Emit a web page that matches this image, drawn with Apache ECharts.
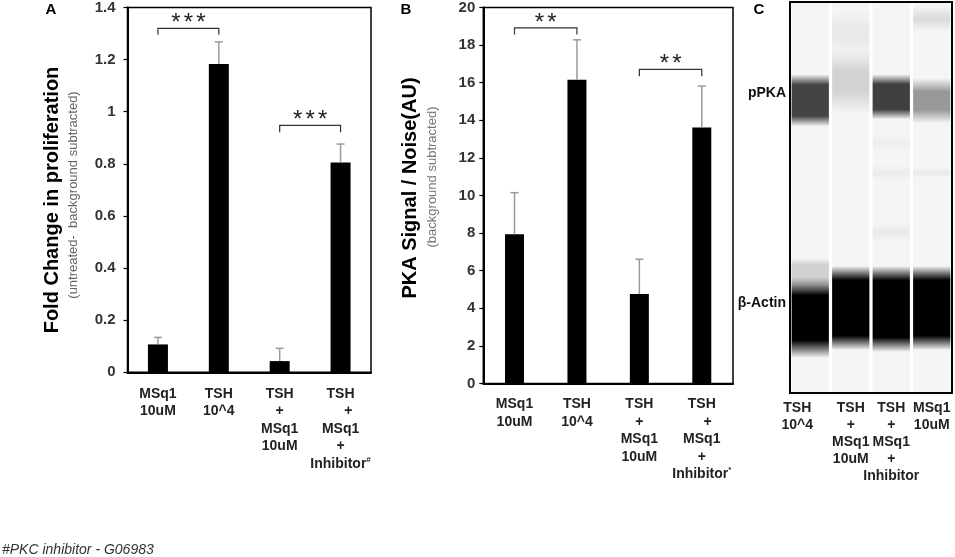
<!DOCTYPE html>
<html><head><meta charset="utf-8">
<script src="https://cdn.jsdelivr.net/npm/echarts@6/dist/echarts.min.js"></script>
<style>html,body{margin:0;padding:0;background:#fff}#c{width:955px;height:557px}</style>
</head><body><div id="c"></div>
<script>
// ---- Panel A data ----
var categoriesA = ['MSq1\n10uM', 'TSH\n10^4', 'TSH\n+\nMSq1\n10uM', 'TSH\n    +\nMSq1\n+\nInhibitor{s|#}'];
var valuesA = [0.107, 1.183, 0.043, 0.805];
var errorsA = [0.027, 0.085, 0.049, 0.071];
// [fromIndex, toIndex, bracketTop, legBottom, starY]
var sigA = [[0, 1, 1.32, 1.295, 1.362], [2, 3, 0.948, 0.921, 0.99]];
var sigLabelsA = ['***', '***'];
// ---- Panel B data ----
var categoriesB = ['MSq1\n10uM', 'TSH\n10^4', 'TSH\n+\nMSq1\n10uM', 'TSH\n   +\nMSq1\n+\nInhibitor{s|*}'];
var valuesB = [7.94, 16.16, 4.76, 13.62];
var errorsB = [2.21, 2.12, 1.85, 2.20];
var sigB = [[0, 1, 18.92, 18.57, 19.5], [2, 3, 16.71, 16.34, 17.32]];
var sigLabelsB = ['**', '**'];
// ---- Panel C data (blot lanes, band positions in migration units 0-100 top to bottom) ----
var lanesC = ['TSH\n10^4', 'TSH\n+\nMSq1\n10uM', 'TSH\n+\nMSq1\n+\nInhibitor', 'MSq1\n10uM'];
var bandNamesC = ['pPKA', 'β-Actin'];
var bandLabelPosC = [23.3, 77];
// [lane, start, end, darkness, edgeFraction]
var bandsC = [
  [0, 18.5, 31.8, 0.72, 0.2],
  [0, 65.5, 72.5, 0.15, 0.25],
  [0, 70.5, 91.0, 1.0, 0.22],
  [1, 2.0, 14.0, 0.05, 0.4],
  [1, 12.0, 28.5, 0.14, 0.35],
  [1, 67.5, 89.0, 1.0, 0.17],
  [2, 18.5, 30.0, 0.74, 0.22],
  [2, 34.0, 38.0, 0.035, 0.5],
  [2, 41.5, 46.0, 0.04, 0.5],
  [2, 56.5, 61.5, 0.05, 0.5],
  [2, 67.5, 89.5, 1.0, 0.17],
  [3, 1.0, 7.5, 0.1, 0.45],
  [3, 19.5, 31.0, 0.38, 0.3],
  [3, 42.5, 45.0, 0.05, 0.5],
  [3, 67.5, 89.0, 1.0, 0.17]
];

var FONT = 'Liberation Sans, Arial, Helvetica, sans-serif';
var chart = echarts.init(document.getElementById('c'), null, {renderer: 'canvas'});

function errRender(params, api) {
  var x = api.value(0), v = api.value(1), e = api.value(2);
  var p0 = api.coord([x, v]), p1 = api.coord([x, v + e]);
  var cap = 4;
  return {type: 'group', children: [
    {type: 'line', shape: {x1: p0[0], y1: p0[1], x2: p1[0], y2: p1[1]}, style: {stroke: '#9a9a9a', lineWidth: 1.5}},
    {type: 'line', shape: {x1: p1[0] - cap, y1: p1[1], x2: p1[0] + cap, y2: p1[1]}, style: {stroke: '#9a9a9a', lineWidth: 1.5}}
  ]};
}
function sigRender(labels) {
  return function (params, api) {
    var i0 = api.value(0), i1 = api.value(1);
    var a = api.coord([i0, api.value(2)]), b = api.coord([i1, api.value(2)]);
    var la = api.coord([i0, api.value(3)]), lb = api.coord([i1, api.value(3)]);
    var s = api.coord([i0, api.value(4)]);
    var n = labels[params.dataIndex].length, pitch = 12.5;
    var cx = (a[0] + b[0]) / 2;
    var children = [
      {type: 'polyline', shape: {points: [[la[0], la[1]], [a[0], a[1]], [b[0], b[1]], [lb[0], lb[1]]]}, style: {stroke: '#333', lineWidth: 1.2, fill: null}}
    ];
    for (var k = 0; k < n; k++) {
      children.push({type: 'text', x: cx + (k - (n - 1) / 2) * pitch, y: s[1] + 6,
        style: {text: '*', fill: '#222', font: '24px ' + FONT, align: 'center', verticalAlign: 'middle'}});
    }
    return {type: 'group', children: children};
  };
}
function laneRender(params, api) {
  var i = api.value(0);
  var t = api.coord([i, 0]), b = api.coord([i, 100]);
  var w = api.size([1, 0])[0] * 0.92;
  return {type: 'rect', shape: {x: t[0] - w / 2, y: t[1] + 1, width: w, height: b[1] - t[1] - 2}, style: {fill: '#f5f5f5'}};
}
function bandRender(params, api) {
  var lane = api.value(0), y0 = api.value(1), y1 = api.value(2), a = api.value(3), f = api.value(4);
  var pt = api.coord([lane, y0]), pb = api.coord([lane, y1]);
  var w = api.size([1, 0])[0] * 0.92;
  var c = 'rgba(0,0,0,';
  return {type: 'rect', shape: {x: pt[0] - w / 2, y: Math.min(pt[1], pb[1]), width: w, height: Math.abs(pb[1] - pt[1])},
    style: {fill: {type: 'linear', x: 0, y: 0, x2: 0, y2: 1, colorStops: [
      {offset: 0, color: c + '0)'}, {offset: f, color: c + a + ')'}, {offset: 1 - f, color: c + a + ')'}, {offset: 1, color: c + '0)'}]}}};
}

var xLabelBase = {color: '#222', fontWeight: 'bold', fontSize: 14, fontFamily: FONT, lineHeight: 17.5, interval: 0,
  rich: {s: {fontSize: 8, fontWeight: 'bold', verticalAlign: 'top', lineHeight: 17.5, padding: [0, 0, 6, 0], color: '#222'}}};
var yLabelBase = {color: '#333', fontWeight: 'bold', fontSize: 15, fontFamily: FONT};
var yTick = {show: true, inside: false, length: 4, lineStyle: {color: '#000', width: 1.2}};

var laneCats = lanesC.map(function (l, i) {
  return i === 0 ? {value: l, textStyle: {padding: [0, 26, 0, 0]}} : l;
});

var option = {
  animation: false,
  backgroundColor: '#fff',
  grid: [
    {left: 127.5, top: 5.5, width: 243.5, height: 366.8, show: true, borderColor: '#000', borderWidth: 1.5, backgroundColor: 'transparent'},
    {left: 483.3, top: 6.5, width: 249.7, height: 377, show: true, borderColor: '#000', borderWidth: 1.5, backgroundColor: 'transparent'},
    {left: 790, top: 2, width: 162, height: 391, show: true, borderColor: '#000', borderWidth: 2, backgroundColor: '#fff'}
  ],
  xAxis: [
    {gridIndex: 0, type: 'category', data: categoriesA, axisLine: {lineStyle: {color: '#000', width: 2}}, axisTick: {show: false},
      axisLabel: Object.assign({}, xLabelBase, {margin: 13})},
    {gridIndex: 1, type: 'category', data: categoriesB, axisLine: {lineStyle: {color: '#000', width: 2}}, axisTick: {show: false},
      axisLabel: Object.assign({}, xLabelBase, {margin: 12})},
    {gridIndex: 2, type: 'category', data: laneCats, axisLine: {show: false}, axisTick: {show: false},
      axisLabel: Object.assign({}, xLabelBase, {margin: 7, lineHeight: 17})}
  ],
  yAxis: [
    {gridIndex: 0, type: 'value', min: 0, max: 1.4, interval: 0.2, splitLine: {show: false},
      axisLine: {show: true, lineStyle: {color: '#000', width: 2}}, axisTick: yTick, axisLabel: Object.assign({}, yLabelBase, {margin: 12})},
    {gridIndex: 1, type: 'value', min: 0, max: 20, interval: 2, splitLine: {show: false},
      axisLine: {show: true, lineStyle: {color: '#000', width: 2}}, axisTick: yTick, axisLabel: Object.assign({}, yLabelBase, {margin: 8})},
    {gridIndex: 2, type: 'value', min: 0, max: 100, inverse: true, splitLine: {show: false},
      axisLine: {show: false}, axisTick: {show: false},
      axisLabel: {customValues: bandLabelPosC, margin: 4, color: '#111', fontWeight: 'bold', fontSize: 14, fontFamily: FONT,
        formatter: function (v) { var k = bandLabelPosC.indexOf(v); return k >= 0 ? bandNamesC[k] : ''; }}}
  ],
  series: [
    {type: 'bar', xAxisIndex: 0, yAxisIndex: 0, data: valuesA, barWidth: 20, itemStyle: {color: '#000'}},
    {type: 'custom', xAxisIndex: 0, yAxisIndex: 0, renderItem: errRender, z: 5,
      data: valuesA.map(function (v, i) { return [i, v, errorsA[i]]; })},
    {type: 'custom', xAxisIndex: 0, yAxisIndex: 0, renderItem: sigRender(sigLabelsA), z: 5, data: sigA},
    {type: 'bar', xAxisIndex: 1, yAxisIndex: 1, data: valuesB, barWidth: 19, itemStyle: {color: '#000'}},
    {type: 'custom', xAxisIndex: 1, yAxisIndex: 1, renderItem: errRender, z: 5,
      data: valuesB.map(function (v, i) { return [i, v, errorsB[i]]; })},
    {type: 'custom', xAxisIndex: 1, yAxisIndex: 1, renderItem: sigRender(sigLabelsB), z: 5, data: sigB},
    {type: 'custom', xAxisIndex: 2, yAxisIndex: 2, renderItem: laneRender, z: 2,
      data: lanesC.map(function (l, i) { return [i, 0]; })},
    {type: 'custom', xAxisIndex: 2, yAxisIndex: 2, renderItem: bandRender, z: 3, data: bandsC}
  ],
  graphic: [
    {type: 'text', x: 51, y: 10, style: {text: 'A', font: 'bold 15px ' + FONT, fill: '#000', align: 'center', verticalAlign: 'middle'}},
    {type: 'text', x: 406, y: 10, style: {text: 'B', font: 'bold 15px ' + FONT, fill: '#000', align: 'center', verticalAlign: 'middle'}},
    {type: 'text', x: 759, y: 10, style: {text: 'C', font: 'bold 15px ' + FONT, fill: '#000', align: 'center', verticalAlign: 'middle'}},
    {type: 'text', x: 52, y: 200, rotation: Math.PI / 2, style: {text: 'Fold Change in proliferation', font: 'bold 20px ' + FONT, fill: '#000', align: 'center', verticalAlign: 'middle'}},
    {type: 'text', x: 73, y: 195, rotation: Math.PI / 2, style: {text: '(untreated-  background subtracted)', font: '13px ' + FONT, fill: '#666', align: 'center', verticalAlign: 'middle'}},
    {type: 'text', x: 410, y: 188, rotation: Math.PI / 2, style: {text: 'PKA Signal / Noise(AU)', font: 'bold 20px ' + FONT, fill: '#000', align: 'center', verticalAlign: 'middle'}},
    {type: 'text', x: 432, y: 177, rotation: Math.PI / 2, style: {text: '(background subtracted)', font: '13px ' + FONT, fill: '#777', align: 'center', verticalAlign: 'middle'}},
    {type: 'text', x: 2, y: 550, style: {text: '#PKC inhibitor - G06983', font: 'italic 14px ' + FONT, fill: '#333', align: 'left', verticalAlign: 'middle'}}
  ]
};
chart.setOption(option);
</script></body></html>
